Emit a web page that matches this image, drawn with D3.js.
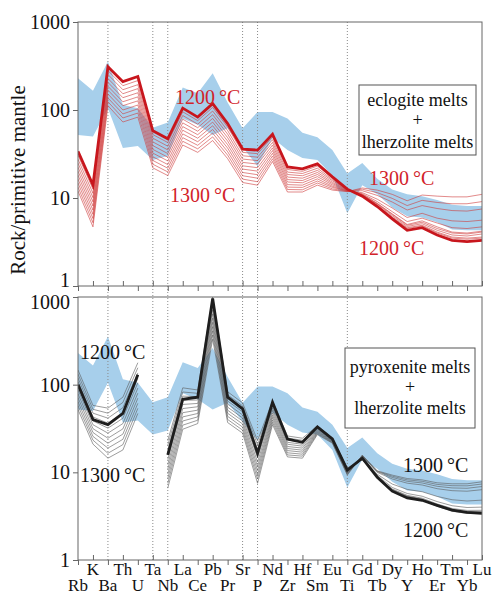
<!DOCTYPE html>
<html>
<head>
<meta charset="utf-8">
<script src="https://cdn.jsdelivr.net/npm/d3@7"></script>
<style>
  body { margin: 0; background: #fff; }
  svg { display: block; }
  text { font-family: "Liberation Serif", "Times New Roman", serif; fill: #111; }
</style>
</head>
<body>
<svg id="chart" width="496" height="597"></svg>
<script>
// Trace elements in spider-diagram order
const elements = ["Rb","K","Ba","Th","U","Ta","Nb","La","Ce","Pb","Pr","Sr","P","Nd",
                  "Zr","Hf","Sm","Eu","Ti","Gd","Tb","Dy","Y","Ho","Er","Tm","Yb","Lu"];
const yTicks = [1, 10, 100, 1000];
const guideElements = ["Ba","Ta","Nb","Sr","P","Ti"];

// Observed basalt range (rock / primitive mantle)
const bandHigh = [230,165,355,115,105,63,72,180,155,262,122,62,95,95,80,55,49,35,19,25,16.5,12.5,11,10.5,9.5,8.4,8.1,8.1];
const bandLow  = [52,50,105,37,39,27,30,80,68,52,62,38,23,48,35,28.5,27,18,6.7,14,11,7.8,6.2,6,5.3,4.4,4.3,4.3];

// Eclogite + lherzolite melt mixtures, 1200-1300 °C
const ecl1200 = [34,14,310,210,240,58,47,105,83,118,70,36,35,53,22.5,21.4,24.4,17.4,12.6,10.5,8.0,5.8,4.3,4.6,3.8,3.3,3.2,3.3];
const ecl1210 = [30.6,12.6,280,189,216,52.6,42.7,95.4,75.7,107,63.9,33.0,31.9,49.4,21.1,20.1,23.1,16.8,12.5,10.6,8.2,6.0,4.5,4.8,4.0,3.5,3.4,3.5];
const ecl1220 = [27.6,11.3,253,170,194,47.8,38.8,86.6,69.0,97.3,58.3,30.2,29.1,46.0,19.7,19.0,21.8,16.2,12.4,10.7,8.3,6.1,4.6,4.9,4.1,3.6,3.5,3.6];
const ecl1230 = [24.9,10.1,228,153,175,43.4,35.2,78.6,62.9,88.4,53.2,27.7,26.6,42.8,18.5,17.9,20.6,15.7,12.4,10.8,8.5,6.3,4.75,5.1,4.3,3.8,3.7,3.9];
const ecl1240 = [22.4,9.05,206,138,157,39.4,32.0,71.4,57.4,80.2,48.5,25.4,24.3,39.9,17.3,16.8,19.5,15.1,12.3,10.9,8.6,6.5,4.9,5.3,4.5,4.0,3.9,4.1];
const ecl1250 = [20.2,8.11,186,124,141,35.7,29.1,64.8,52.4,72.9,44.3,23.2,22.1,37.1,16.2,15.8,18.5,14.6,12.2,11.0,8.7,6.6,5.0,5.5,4.7,4.1,4.0,4.2];
const ecl1260 = [18.2,7.27,168,112,127,32.4,26.4,58.9,47.8,66.2,40.4,21.3,20.2,34.6,15.2,14.9,17.5,14.1,12.1,11.2,9.1,7.0,5.4,5.9,5.2,4.6,4.5,4.7];
const ecl1270 = [16.4,6.52,152,100,114,29.4,24.0,53.5,43.6,60.1,36.9,19.5,18.4,32.2,14.2,14.0,16.5,13.6,12.0,11.5,9.7,7.7,6.0,6.7,5.9,5.5,5.4,5.6];
const ecl1280 = [14.8,5.85,137,90.3,103,26.7,21.8,48.5,39.7,54.6,33.6,17.9,16.8,30.0,13.3,13.2,15.6,13.2,12.0,12.1,10.7,9.0,7.3,8.2,7.6,7.2,7.1,7.5];
const ecl1290 = [13.3,5.24,124,81.2,92.4,24.2,19.8,44.1,36.2,49.5,30.7,16.4,15.3,27.9,12.5,12.4,14.8,12.7,11.9,12.6,11.5,9.9,8.2,9.4,8.9,8.6,8.6,9.1];
const ecl1300 = [12.0,4.7,112,73,83,22,18,40,33,45,28,15,14,26,11.7,11.7,14,12.3,11.8,13,12.3,11,9.3,10.8,10.5,10.3,10.3,11];

// Pyroxenite + lherzolite melt mixtures, 1200-1300 °C (no Ta)
const pyx1200 = [147,58,54,72,178,null,23,92,87,1000,83,62,23,65,26,24.5,34,24.6,11.2,14.0,8.9,6.2,5.2,4.8,4.1,3.6,3.4,3.4];
const pyx1210 = [132,52.4,47.3,62.7,156,null,20.3,82.5,79.7,895,76.6,57.3,20.6,61.1,24.6,23.2,33.2,24.3,11.0,14.0,8.9,6.25,5.25,4.85,4.15,3.65,3.45,3.46];
const pyx1220 = [119,47.3,41.5,54.6,136,null,17.9,74.0,72.9,801,70.6,52.9,18.4,57.4,23.3,22.1,32.5,23.9,10.8,14.1,9.0,6.3,5.3,4.9,4.2,3.71,3.51,3.52];
const pyx1230 = [108,42.8,36.4,47.5,119,null,15.8,66.4,66.8,717,65.1,48.9,16.4,54.0,22.0,20.9,31.7,23.6,10.6,14.1,9.0,6.35,5.36,4.96,4.26,3.76,3.56,3.57];
const pyx1240 = [97.0,38.6,31.9,41.4,105,null,14.0,59.5,61.1,642,60.1,45.1,14.7,50.8,20.9,19.9,31.0,23.3,10.4,14.2,9.0,6.46,5.46,5.07,4.36,3.87,3.68,3.69];
const pyx1250 = [87.4,34.9,28.0,36.0,91.4,null,12.3,53.4,56.0,575,55.4,41.7,13.1,47.7,19.7,18.9,30.3,23.0,10.2,14.3,9.2,6.72,5.74,5.34,4.64,4.16,3.97,4.01];
const pyx1260 = [78.8,31.5,24.5,31.3,80.0,null,10.9,47.9,51.2,514,51.1,38.5,11.7,44.8,18.7,17.9,29.6,22.7,10.0,14.7,9.5,7.35,6.39,6.01,5.31,4.87,4.71,4.82];
const pyx1270 = [71.0,28.5,21.5,27.3,70.1,null,9.6,42.9,46.9,460,47.2,35.6,10.5,42.2,17.7,17.0,28.9,22.4,9.8,15.3,10.0,8.4,7.52,7.17,6.51,6.18,6.09,6.34];
const pyx1280 = [64.0,25.7,18.9,23.8,61.3,null,8.5,38.5,42.9,412,43.5,32.8,9.4,39.6,16.7,16.1,28.3,22.1,9.7,15.4,10.2,8.75,7.9,7.56,6.93,6.64,6.58,6.89];
const pyx1290 = [57.7,23.3,16.5,20.7,53.7,null,7.5,34.5,39.3,369,40.1,30.3,8.4,37.2,15.8,15.3,27.6,21.8,9.5,15.6,10.3,9.04,8.21,7.9,7.28,7.04,7.01,7.36];
const pyx1300 = [52,21,14.5,18,47,null,6.6,31,36,330,37,28,7.5,35,15,14.5,27,21.5,9.3,15.7,10.4,9.3,8.5,8.2,7.6,7.4,7.4,7.8];
const pyxBold = [100,40,35,47,130,null,15.8,68,72,960,72,53,16.5,63,24,22,33,24,10.6,14.5,8.8,6.1,5.1,4.8,4.2,3.7,3.5,3.4];

const eclThin = [ecl1210, ecl1220, ecl1230, ecl1240, ecl1250, ecl1260, ecl1270, ecl1280, ecl1290, ecl1300];
const pyxThin = [pyx1200, pyx1210, pyx1220, pyx1230, pyx1240, pyx1250, pyx1260, pyx1270, pyx1280, pyx1290, pyx1300];

const svg = d3.select("#chart");
const left = 78, right = 482;
const x = d3.scalePoint().domain(elements).range([left, right]);

const panels = [
  { id: "top", top: 22, bottom: 286, shift: { 1: -6 } },
  { id: "bot", top: 297, bottom: 560, shift: { 1000: 5 } }
];
panels.forEach(p => { p.y = d3.scaleLog().domain([1, 1000]).range([p.bottom, p.top]); });
const [P1, P2] = panels;

const BLUE = "#a7cfeb", RED = "#c8161d", REDTXT = "#d2232a";

// clip paths
const defs = svg.append("defs");
panels.forEach(p => {
  defs.append("clipPath").attr("id", "clip-" + p.id)
    .append("rect").attr("x", left).attr("y", p.top)
    .attr("width", right - left).attr("height", p.bottom - p.top);
});

// observed range bands
panels.forEach(p => {
  const area = d3.area()
    .x((d, i) => x(elements[i]))
    .y0((d, i) => p.y(bandLow[i]))
    .y1((d, i) => p.y(bandHigh[i]));
  svg.append("path").datum(bandHigh).attr("d", area)
    .attr("fill", BLUE).attr("clip-path", `url(#clip-${p.id})`);
});

// dotted guides through both panels
svg.append("g").selectAll("line").data(guideElements).join("line")
  .attr("x1", d => x(d)).attr("x2", d => x(d))
  .attr("y1", P1.top).attr("y2", P2.bottom)
  .attr("stroke", "#8a8a8a").attr("stroke-width", 1)
  .attr("stroke-dasharray", "1,2");

function lineGen(p) {
  return d3.line().defined(v => v != null)
    .x((d, i) => x(elements[i])).y(d => p.y(d));
}

// top panel: eclogite mixtures
const g1 = svg.append("g").attr("clip-path", "url(#clip-top)");
g1.selectAll("path.thin").data(eclThin).join("path").attr("class", "thin")
  .attr("d", lineGen(P1)).attr("fill", "none")
  .attr("stroke", "#cf3b3b").attr("stroke-width", 0.6);
g1.append("path").datum(ecl1200).attr("d", lineGen(P1)).attr("fill", "none")
  .attr("stroke", RED).attr("stroke-width", 2.8).attr("stroke-linejoin", "miter");

// bottom panel: pyroxenite mixtures
const g2 = svg.append("g").attr("clip-path", "url(#clip-bot)");
g2.selectAll("path.thin").data(pyxThin).join("path").attr("class", "thin")
  .attr("d", lineGen(P2)).attr("fill", "none")
  .attr("stroke", "#5a5a5a").attr("stroke-width", 0.6);
g2.append("path").datum(pyxBold).attr("d", lineGen(P2)).attr("fill", "none")
  .attr("stroke", "#1e1e1e").attr("stroke-width", 2.8).attr("stroke-linejoin", "miter");

// frames, y axes and element ticks
const evenEls = elements.filter((d, i) => i % 2 === 0);
const oddEls = elements.filter((d, i) => i % 2 === 1);
panels.forEach(p => {
  svg.append("rect").attr("x", left).attr("y", p.top)
    .attr("width", right - left).attr("height", p.bottom - p.top)
    .attr("fill", "none").attr("stroke", "#666").attr("stroke-width", 1);

  const ya = svg.append("g").attr("transform", `translate(${left},0)`)
    .call(d3.axisLeft(p.y).tickValues(yTicks).tickFormat(d3.format("d")).tickSize(5).tickPadding(3));
  ya.select(".domain").remove();
  ya.selectAll(".tick line").attr("stroke", "#666");
  ya.selectAll(".tick text").attr("font-size", 20).attr("fill", "#111")
    .attr("font-family", "Liberation Serif, serif")
    .attr("y", d => p.shift[d] || 0);

  const outer = svg.append("g").attr("transform", `translate(0,${p.bottom})`)
    .call(d3.axisBottom(x).tickValues(evenEls).tickSize(5).tickFormat(""));
  const inner = svg.append("g").attr("transform", `translate(0,${p.bottom})`)
    .call(d3.axisTop(x).tickValues(oddEls).tickSize(5).tickFormat(""));
  [outer, inner].forEach(a => { a.select(".domain").remove(); a.selectAll("line").attr("stroke", "#666"); });
});

// element labels on two rows
svg.append("g").selectAll("text").data(elements).join("text")
  .attr("x", d => x(d))
  .attr("y", (d, i) => i % 2 === 1 ? 575 : 591)
  .attr("text-anchor", "middle").attr("font-size", 17)
  .text(d => d);

// y axis title
svg.append("text")
  .attr("transform", "translate(25,180) rotate(-90)")
  .attr("text-anchor", "middle").attr("font-size", 21)
  .text("Rock/primitive mantle");

// legend boxes
function legend(x0, y0, w, h, lines, baselines) {
  svg.append("rect").attr("x", x0).attr("y", y0).attr("width", w).attr("height", h)
    .attr("fill", "#fff").attr("stroke", "#555").attr("stroke-width", 1);
  lines.forEach((t, i) => {
    svg.append("text").attr("x", x0 + w / 2).attr("y", baselines[i])
      .attr("text-anchor", "middle").attr("font-size", 18).text(t);
  });
}
legend(359, 85, 117, 70, ["eclogite melts", "+", "lherzolite melts"], [106, 126, 148]);
legend(345, 348, 130, 80, ["pyroxenite melts", "+", "lherzolite melts"], [373, 393, 414]);

// temperature labels
const tempLabels = [
  { t: "1200\u2009°C", x: 175, y: 104, c: REDTXT },
  { t: "1300\u2009°C", x: 170, y: 202, c: REDTXT },
  { t: "1300\u2009°C", x: 369, y: 185, c: REDTXT },
  { t: "1200\u2009°C", x: 359, y: 255, c: REDTXT },
  { t: "1200\u2009°C", x: 80, y: 359, c: "#111" },
  { t: "1300\u2009°C", x: 80, y: 482, c: "#111" },
  { t: "1300\u2009°C", x: 403, y: 472, c: "#111" },
  { t: "1200\u2009°C", x: 403, y: 537, c: "#111" }
];
svg.append("g").selectAll("text").data(tempLabels).join("text")
  .attr("x", d => d.x).attr("y", d => d.y)
  .attr("font-size", 20).style("fill", d => d.c)
  .text(d => d.t);
</script>
</body>
</html>
